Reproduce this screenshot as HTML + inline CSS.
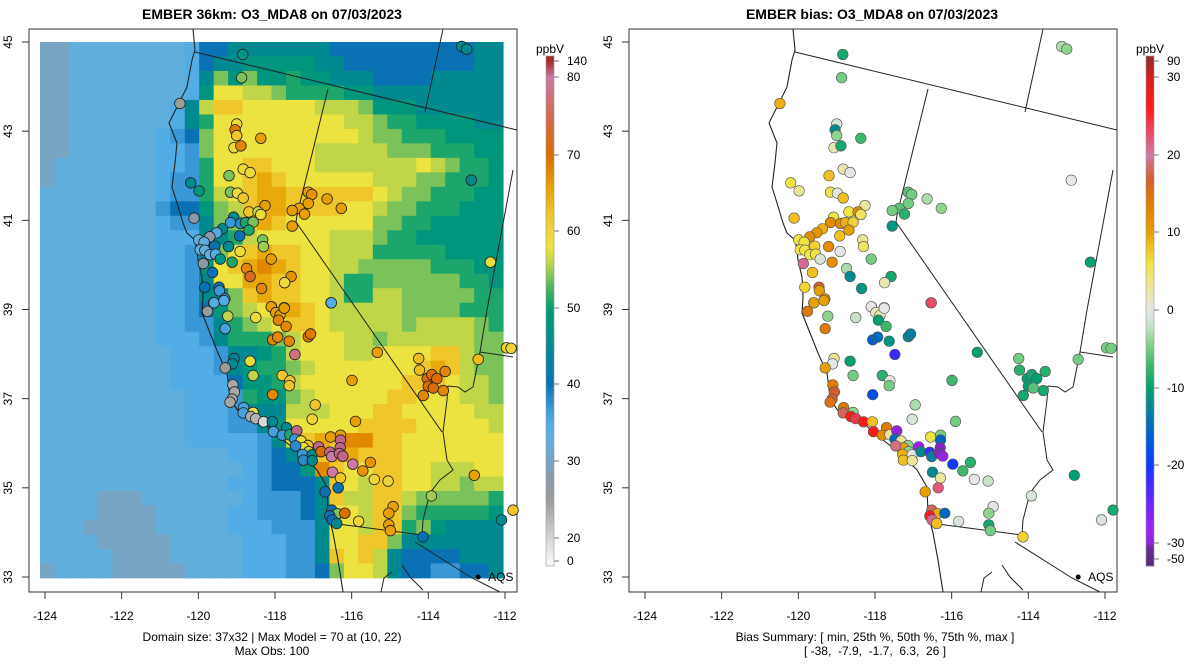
<!DOCTYPE html>
<html><head><meta charset="utf-8"><style>
html,body{margin:0;padding:0;background:#fff;width:1200px;height:672px;overflow:hidden}
svg{display:block;font-family:"Liberation Sans",Arial,sans-serif}
</style></head><body>
<svg id="chart" width="1200" height="672" viewBox="0 0 1200 672" xmlns="http://www.w3.org/2000/svg">
<text x="272" y="19" text-anchor="middle" font-size="14" font-weight="bold">EMBER 36km: O3_MDA8 on 07/03/2023</text>
<text x="872" y="19" text-anchor="middle" font-size="14" font-weight="bold">EMBER bias: O3_MDA8 on 07/03/2023</text>
<g id="leftPanel"></g>
<g id="rightPanel"></g>
<text x="272" y="641" text-anchor="middle" font-size="12">Domain size: 37x32 | Max Model = 70 at (10, 22)</text>
<text x="272" y="655" text-anchor="middle" font-size="12">Max Obs: 100</text>
<text x="875" y="641" text-anchor="middle" font-size="12">Bias Summary: [ min, 25th %, 50th %, 75th %, max ]</text>
<text x="875" y="655" text-anchor="middle" font-size="12" xml:space="preserve">[ -38,  -7.9,  -1.7,  6.3,  26 ]</text>
</svg>
<script>
// ---- model grid (37 rows x 32 cols), letter codes -> ppbV ; each row = ocean part + land part
const gridRows = [
"aabbbbbbbbc"+"eefffffffeeeeeeeeeeff",
"aabbbbbbbbc"+"effgggggffeeeeeeeeeff",
"aabbbbbbbbc"+"figigghggfffeeeefffff",
"aabbbbbbbbc"+"gkkjjihhhhggfffffffff",
"aabbbbbbbcf"+"jllkkkkkjjjigggffffff",
"aabbbbbbbcf"+"hkkkkkkkkkjjihhggggff",
"aabbbbbbcde"+"ikkkkkkkkkkjiihhhgggg",
"aabbbbbbccd"+"ikkkkkkkjjjjjiiihhhgg",
"abbbbbbbccd"+"hkkllkkkjjjjjjjkjihhg",
"abbbbbbbcdd"+"hkklmlkkkkkkjjjiihhhg",
"bbbbbbbbcdd"+"hjklmmllllllkjiihhhgg",
"bbbbbbbbdee"+"gijlmmllllkkjiihhhggg",
"bbbbbbbbcdd"+"fiilmlkkkkkkiihhggggg",
"bbbbbbbbccc"+"ffhjkkkkkjjjihhgggggg",
"bbbbbbbbccd"+"fiklmllkkjjjhhhhhgggg",
"bbbbbbbbccd"+"gklmnmlkkjjiiiiihhhgg",
"bbbbbbbbccd"+"fkkmmllkkjhhiiiiiihhg",
"bbbbbbbbccd"+"ffilmllkkjhhjjiiiiihh",
"bbbbbbbbccd"+"egijklmlkjjjjjiiiihhh",
"bbbbbbbbccd"+"dfhijkllkjjjjjijjjjih",
"bbbbbbbbccc"+"dfhhhijkkkjjijjjjjjii",
"bbbbbbbbbcc"+"cdffghjkkkjjkkkklljii",
"bbbbbbbbbcc"+"cdfghhijkkkkkkklmljii",
"bbbbbbbbbcc"+"ccegghjkkkkkkklllkjji",
"bbbbbbbbbbc"+"ccdhggijkkkkkllkkkjji",
"bbbbbbbbbbc"+"ccdfffjjjkkkllkkkkkjj",
"bbbbbbbbbbc"+"ccddfgkkkkkllllkkkkkj",
"bbbbbbbbbbc"+"ccccdfjlmlnnllkkkkkkk",
"bbbbbbbbbbbbb"+"ccdefglmmlllkkkkkkk",
"bbbbbbbbbbbbbb"+"cdeegnlkkllkkjjjkk",
"bbbbbbbbbbbbb"+"ccdeeeflkjllkkjjijj",
"bbbbaaabbbbbbb"+"cdddefljjlljiiiiih",
"bbbbaaaabbbbbcc"+"dddefkkjllihhhhhg",
"bbbaaaaabbbbbccc"+"dddfkkjllhigffff",
"bbbbaaaaabbbbbccc"+"ddfkkllifffffff",
"bbbbbaaaabbbbbccc"+"ddflkljfeeeefff",
"abbbbaaaaabbbbccc"+"ddeikkjfeeddeef"
];
const codeLetters = "abcdefghijklmn";
const codeValues = [30,33,35,37,40,45,48,51,54,56,58,62,65,68];
const gridLonW = -124.13, gridLonE = -112.05, gridLatN = 45.0, gridLatS = 32.98;

// ---- stations
const stLon = [-118.84,-113.13,-113.00,-118.87,-120.48,-119.00,-119.04,-119.00,-118.37,-119.07,-118.89,-118.83,-118.65,-119.20,-120.20,-119.98,-119.16,-118.98,-118.83,-118.26,-118.68,-118.44,-118.37,-117.13,-117.04,-117.13,-117.37,-117.55,-117.23,-116.64,-116.27,-117.55,-112.88,-112.38,-120.11,-119.08,-119.16,-118.90,-118.77,-118.57,-118.68,-119.37,-119.52,-119.70,-118.92,-119.99,-119.85,-119.57,-119.21,-118.91,-119.95,-119.83,-119.70,-119.55,-119.43,-119.87,-119.12,-119.63,-118.32,-118.30,-118.10,-118.74,-118.65,-117.58,-117.75,-118.35,-119.83,-119.46,-119.45,-119.31,-119.60,-116.54,-118.09,-117.76,-119.59,-119.33,-119.76,-119.23,-118.50,-119.30,-118.10,-117.98,-117.87,-117.91,-117.76,-117.71,-118.06,-117.93,-117.63,-117.13,-117.07,-117.48,-116.53,-119.07,-119.11,-119.30,-118.65,-118.57,-117.81,-117.61,-117.63,-118.06,-119.10,-119.06,-119.12,-119.17,-118.82,-118.83,-118.57,-118.63,-118.50,-118.30,-118.07,-117.70,-118.04,-117.81,-117.61,-117.43,-117.48,-117.32,-117.14,-117.26,-117.46,-117.12,-117.28,-117.26,-117.03,-117.03,-116.86,-116.80,-116.95,-117.03,-115.90,-115.99,-115.33,-116.55,-116.29,-116.29,-116.30,-116.57,-116.52,-116.32,-116.23,-115.97,-115.51,-115.71,-116.50,-116.29,-116.35,-116.69,-115.41,-115.05,-114.92,-115.03,-115.03,-114.99,-116.52,-116.37,-116.18,-116.57,-116.51,-116.39,-115.82,-114.14,-114.25,-114.23,-113.56,-114.03,-113.91,-113.78,-114.00,-113.87,-113.61,-114.13,-112.70,-112.80,-113.92,-111.96,-111.84,-112.09,-111.79];
const stLat = [44.72,44.90,44.84,44.20,43.62,43.16,43.03,42.90,42.84,42.63,42.67,42.15,42.07,42.00,41.84,41.66,41.63,41.61,41.50,41.33,41.19,41.19,41.13,41.63,41.58,41.38,41.27,41.22,41.14,41.48,41.27,40.87,41.90,40.06,41.05,41.07,40.95,40.93,40.95,40.96,40.78,40.81,40.72,40.63,40.65,40.56,40.51,40.42,40.41,40.30,40.34,40.33,40.23,40.24,40.13,40.03,40.06,39.83,40.56,40.41,40.13,39.92,39.74,39.74,39.60,39.47,39.50,39.50,39.42,39.24,39.15,39.15,39.06,39.04,39.15,39.20,38.96,38.85,38.82,38.57,39.06,38.93,38.87,38.76,39.03,38.62,38.32,38.38,38.29,38.39,38.45,37.99,39.15,37.90,37.78,37.69,37.84,37.52,37.52,37.40,37.29,37.09,37.31,37.15,36.99,36.92,36.80,36.68,36.69,36.60,36.55,36.48,36.48,36.35,36.26,36.18,36.19,36.28,36.09,36.05,35.95,35.90,35.94,35.81,35.75,35.62,35.74,35.61,35.92,35.81,36.86,36.54,36.49,37.41,38.04,36.14,36.18,36.07,35.90,35.80,35.70,35.77,35.71,35.53,35.57,35.38,35.35,35.22,35.00,34.91,35.19,35.15,34.58,34.43,34.17,34.04,34.50,34.42,34.43,34.37,34.28,34.20,34.25,33.90,37.90,37.64,37.61,37.45,37.54,37.45,37.28,37.24,37.18,37.07,37.88,35.28,34.82,38.14,38.13,34.28,34.50];
const stObs = [48,45,45,54,25,59,69,62,66,59,68,59,59,54,45,48,54,59,62,66,62,56,59,66,67,66,66,66,66,66,66,66,45,59,28,45,37,38,51,54,51,45,35,28,40,33,33,40,45,59,33,33,33,35,48,28,51,40,54,55,66,68,72,67,59,68,40,40,37,37,36,35,66,66,35,35,26,56,59,36,66,66,66,68,66,68,68,68,68,69,69,78,35,44,45,25,59,56,62,62,62,68,24,24,24,24,36,36,58,24,23,18,45,45,36,37,51,95,37,59,63,58,38,56,37,38,45,45,95,70,62,60,66,66,66,66,66,95,95,95,80,95,95,80,67,67,80,62,40,40,60,60,66,66,66,66,40,54,70,40,40,45,60,40,63,63,68,70,70,70,70,70,68,68,63,66,55,60,60,45,62];
const stBias = [-9,-3,-4,-5,9,-1,-12,-4,-7,2,-9,2,0,8,6,3,6,0,8,3,6,12,5,-6,-5,-5,-6,-5,-8,-3,-4,-11,0,-10,8,6,12,12,9,7,10,9,11,12,8,6,6,7,12,0,6,6,6,6,-1,21,12,8,3,5,-5,-3,-12,-9,2,-11,7,16,10,12,10,23,0,0,10,10,14,-4,-2,14,0,2,2,-10,0,-7,-16,-15,-11,-12,-13,-22,23,3,0,10,-10,-5,-8,0,-5,-18,14,17,17,15,14,18,-4,26,24,26,8,14,26,12,3,-30,-15,3,-4,10,19,-4,9,8,0,3,-28,-12,-3,-1,-5,-7,-10,6,-5,-16,-32,-22,-13,-32,-29,-20,-8,-7,-12,3,22,10,0,-2,0,-4,-9,-5,18,9,-15,26,21,8,-1,7,-5,-8,-8,-10,-9,-10,-10,-6,-9,-9,-5,-10,-1,-5,-5,-1,-9];

// ---- colour scales
const obsStops = [[0,'#f6f6f6'],[20,'#d6d6d6'],[25,'#9c9c9c'],[28,'#8a9aaa'],[30,'#78a4c4'],[33,'#60aedc'],[35,'#52ade6'],[37,'#3a98d6'],[40,'#0a72b4'],[45,'#00898e'],[50,'#009e73'],[52,'#3aad62'],[54,'#7cc25a'],[56,'#c0d648'],[58,'#ece240'],[62,'#efc72a'],[66,'#e6a000'],[70,'#dc6e00'],[75,'#d26a50'],[80,'#cc79a7'],[140,'#a52a2a']];
const biasStops = [[-50,'#5b2c7d'],[-35,'#6e2a9a'],[-28,'#a020f0'],[-22,'#3a2cff'],[-20,'#1038ff'],[-17,'#0058d8'],[-14,'#0074b0'],[-12,'#008a8e'],[-10,'#00a070'],[-7,'#3db86a'],[-4,'#8fd48e'],[-2,'#c8e2c8'],[0,'#e6e6e6'],[3,'#ebe59a'],[6,'#f0e442'],[8,'#f0c020'],[10,'#e6a000'],[14,'#de7a00'],[17,'#d45e30'],[20,'#cc79a7'],[23,'#e84a68'],[26,'#ff1a1a'],[30,'#d42020'],[90,'#9a2a2a']];
const obsTickVals = [0,20,30,40,50,60,70,80,140];
const obsTickLabels = ['0','20','30','40','50','60','70','80','140'];
const biasTickVals = [-50,-30,-20,-10,0,10,20,30,90];
const biasTickLabels = ['-50','-30','-20','-10','0','10','20','30','90'];
const lonTicks = [-124,-122,-120,-118,-116,-114,-112];
const latTicks = [33,35,37,39,41,43,45];

function hex(c){return [parseInt(c.substr(1,2),16),parseInt(c.substr(3,2),16),parseInt(c.substr(5,2),16)];}
function colorFor(v,stops){
  if(v<=stops[0][0])return stops[0][1];
  for(let i=1;i<stops.length;i++){
    if(v<=stops[i][0]){
      const a=stops[i-1],b=stops[i],t=(v-a[0])/(b[0]-a[0]);
      const ca=hex(a[1]),cb=hex(b[1]);
      return 'rgb('+ca.map((x,k)=>Math.round(x+(cb[k]-x)*t)).join(',')+')';
    }
  }
  return stops[stops.length-1][1];
}
const NS='http://www.w3.org/2000/svg';
function mk(tag,attrs,parent){const e=document.createElementNS(NS,tag);for(const k in attrs)e.setAttribute(k,attrs[k]);parent.appendChild(e);return e;}

function xScale(lon,off){return off+45+(lon+124)*38.333;}
function yScale(lat){return 42+(45-lat)*44.583;}

const coast="M193,29 L195,50 L192,60 L187,87 L177,107 L169,123 L177,143 L175,163 L172,187 L177,203 L183,223 L187,233 L195,240 L197,250 L198,260 L202,277 L203,297 L202,313 L210,333 L218,353 L227,373 L229,388 L230,400 L240,413 L263,423 L283,440 L300,453 L317,470 L327,487 L328,513 L333,533 L338,560 L343,592";
const borders=["M195,52 L517,130","M443,29 L425,112","M328,89 L297,215 L296,222 L442,432","M480,352 L477,367 L473,387 L465,392 L458,387 L448,386 L447,400 L443,432 L447,460 L453,470 L440,480 L430,493 L423,520 L422,535","M330,523 L422,535","M415,542 L472,578 L500,592","M513,170 L487,310 L480,352 L513,357","M402,565 L410,577 L423,590","M381,592 L384,578 L392,572"];

function drawPanel(g,off,isBias){
  if(!isBias){
    const nR=gridRows.length,nC=32;
    const x0=xScale(gridLonW,off),x1=xScale(gridLonE,off),y0=yScale(gridLatN),y1=yScale(gridLatS);
    const cw=(x1-x0)/nC,ch=(y1-y0)/nR;
    const grid=mk('g',{},g);
    
    
    for(let r=0;r<nR;r++){
      for(let c=0;c<nC;c++){
        let ch_=gridRows[r][c]||gridRows[r][gridRows[r].length-1];
        let idx=codeLetters.indexOf(ch_); if(idx<0)idx=1;
        const v=codeValues[idx];
        const cell=mk('rect',{x:(x0+c*cw).toFixed(2),y:(y0+r*ch).toFixed(2),width:(cw+0.5).toFixed(2),height:(ch+0.5).toFixed(2),fill:colorFor(v,obsStops)},grid);
        
        
      }
    }
  }
  const map=mk('g',{transform:'translate('+off+',0)',fill:'none',stroke:'#222','stroke-width':'1'},g);
  
  
  mk('path',{d:coast,'stroke-width':'1.1'},map);
  borders.forEach(d=>mk('path',{d:d},map));
  const box=mk('rect',{x:off+29,y:29,width:488,height:563,fill:'none',stroke:'#333','stroke-width':'1'},g);
  
  
  const sg=mk('g',{},g);
  
  
  for(let i=0;i<stLon.length;i++){
    const v=isBias?stBias[i]:stObs[i];
    const c=mk('circle',{cx:xScale(stLon[i],off).toFixed(1),cy:yScale(stLat[i]).toFixed(1),r:5.3,fill:colorFor(v,isBias?biasStops:obsStops),stroke:isBias?'#555':'#222','stroke-width':isBias?'0.6':'0.8'},sg);
    
    
  }
  mk('circle',{cx:xScale(-112.7,off),cy:yScale(33),r:2.5,fill:'#000'},g);
  const aq=mk('text',{x:xScale(-112.7,off)+10,y:yScale(33)+4,'font-size':'12'},g);
  aq.textContent='AQS';
  
  
  const xa=mk('g',{},g);
  
  
  lonTicks.forEach(t=>{
    const x=xScale(t,off);
    mk('line',{x1:x,x2:x,y1:592,y2:599,stroke:'#333'},xa);
    const tx=mk('text',{x:x,y:620,'text-anchor':'middle','font-size':'12'},xa);
    tx.textContent=String(t);
  });
  const ya=mk('g',{},g);
  
  
  latTicks.forEach(t=>{
    const y=yScale(t);
    mk('line',{x1:off+22,x2:off+29,y1:y,y2:y,stroke:'#333'},ya);
    const tx=mk('text',{x:off+12,y:y,'text-anchor':'middle','font-size':'12',transform:'rotate(-90 '+(off+12)+' '+y+')'},ya);
    tx.textContent=String(t);
  });
}

function drawColorbar(g,x,stops,tickVals,tickLabels,tickYs,yTop,yBot){
  const cb=mk('g',{},g);
  
  
  function valAt(y){
    for(let i=1;i<tickYs.length;i++){
      if(y>=tickYs[i]){const t=(y-tickYs[i-1])/(tickYs[i]-tickYs[i-1]);return tickVals[i-1]+t*(tickVals[i]-tickVals[i-1]);}
    }
    return tickVals[tickVals.length-1];
  }
  for(let y=yBot;y>yTop;y-=2){
    mk('rect',{x:x,y:y-2,width:8,height:2.4,fill:colorFor(valAt(y-1),stops)},cb);
  }
  mk('rect',{x:x,y:yTop,width:8,height:yBot-yTop,fill:'none',stroke:'#999','stroke-width':'0.6'},cb);
  tickVals.forEach((v,i)=>{
    mk('line',{x1:x+8,x2:x+13,y1:tickYs[i],y2:tickYs[i],stroke:'#777'},cb);
    const t=mk('text',{x:x+21,y:tickYs[i]+4,'font-size':'12'},cb);
    t.textContent=tickLabels[i];
  });
  const u=mk('text',{x:x+4,y:yTop-3,'text-anchor':'middle','font-size':'12'},cb);
  u.textContent='ppbV';
  
  
}

const L=document.getElementById('leftPanel'),R=document.getElementById('rightPanel');
drawPanel(L,0,false);
drawPanel(R,600,true);
function obsBarY(v){const vs=[0,20,30,40,50,60,70,80,140],ys=[561,538,461,384,308,231,155,77,61];for(let i=1;i<vs.length;i++)if(v<=vs[i])return ys[i-1]+(v-vs[i-1])/(vs[i]-vs[i-1])*(ys[i]-ys[i-1]);return 61;}
function biasBarY(v){const vs=[-50,-30,-20,-10,0,10,20,30,90],ys=[559,543,465,388,310,232,155,77,61];for(let i=1;i<vs.length;i++)if(v<=vs[i])return ys[i-1]+(v-vs[i-1])/(vs[i]-vs[i-1])*(ys[i]-ys[i-1]);return 61;}
drawColorbar(document.getElementById('chart'),546,obsStops,obsTickVals,obsTickLabels,obsTickVals.map(obsBarY),56,566);
drawColorbar(document.getElementById('chart'),1146,biasStops,biasTickVals,biasTickLabels,biasTickVals.map(biasBarY),56,566);
</script>
</body></html>
